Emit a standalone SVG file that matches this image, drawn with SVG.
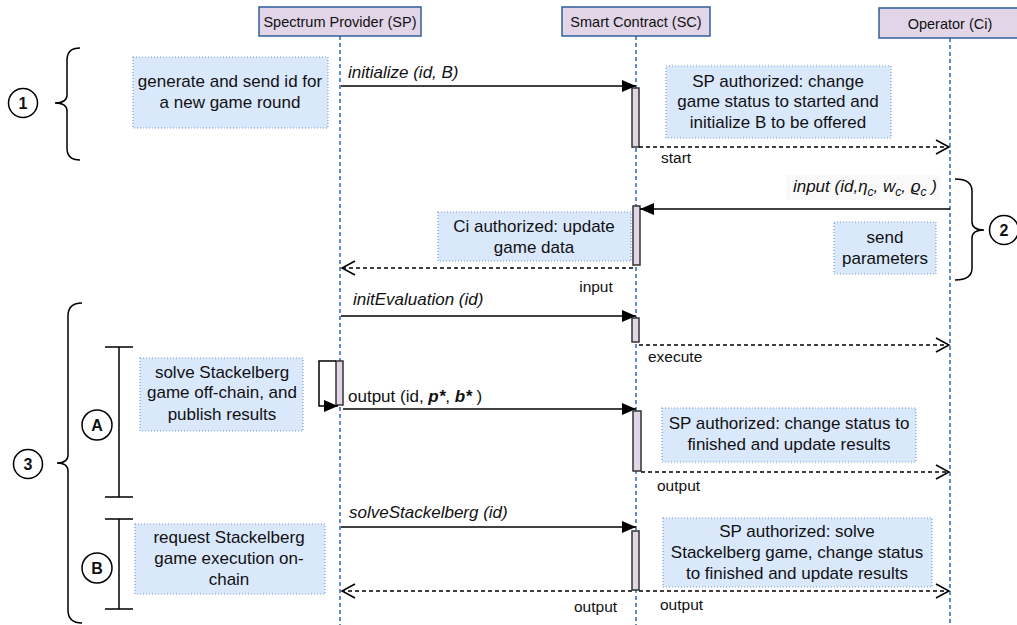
<svg xmlns="http://www.w3.org/2000/svg" width="1017" height="625" viewBox="0 0 1017 625">
<style>
text{font-family:"Liberation Sans",Arial,sans-serif;fill:#111}
.hdr{fill:#e1d5e7;stroke:#2f5e9e;stroke-width:1.5}
.hdrt{font-size:14.5px;text-anchor:middle}
.life{stroke:#2a68b0;stroke-width:1.5;stroke-dasharray:4 3;fill:none}
.note{fill:#dae8fc;stroke:#7a9cd0;stroke-width:1.2;stroke-dasharray:1 2}
.nt{font-size:17px;text-anchor:middle}
.act{fill:#e1d5e7;stroke:#333;stroke-width:1.5}
.msg{stroke:#000;stroke-width:1.5;fill:none}
.ret{stroke:#000;stroke-width:1.5;fill:none;stroke-dasharray:4 3}
.ml{font-size:17px;font-style:italic}
.rl{font-size:15.5px}
.br{stroke:#000;stroke-width:1.5;fill:none}
.circ{fill:#fff;stroke:#000;stroke-width:1.5}
.ct{font-size:16px;font-weight:bold;text-anchor:middle}
</style>
<defs>
<marker id="fill" markerWidth="15" markerHeight="12" refX="14" refY="6" orient="auto" markerUnits="userSpaceOnUse"><path d="M0,0 L14,6 L0,12 z" fill="#000"/></marker>
<marker id="open" markerWidth="16" markerHeight="16" refX="14" refY="8" orient="auto" markerUnits="userSpaceOnUse"><path d="M1,1 L14,8 L1,15" fill="none" stroke="#000" stroke-width="1.5"/></marker>
</defs>
<rect width="1017" height="625" fill="#fff"/>

<g id="sp">
<rect class="hdr" x="259" y="7" width="162" height="29"/>
<text class="hdrt" x="340" y="27">Spectrum Provider (SP)</text>
<line class="life" x1="340" y1="36" x2="340" y2="625"/>
</g>
<g id="sc">
<rect class="hdr" x="562" y="7" width="148" height="29"/>
<text class="hdrt" x="636" y="27">Smart Contract (SC)</text>
<line class="life" x1="636" y1="36" x2="636" y2="625"/>
</g>
<g id="op">
<rect class="hdr" x="879" y="8" width="142" height="30"/>
<text class="hdrt" x="950" y="29">Operator (Ci)</text>
<line class="life" x1="950" y1="38" x2="950" y2="625"/>
</g>

<g id="activations">
<rect class="act" x="632" y="88" width="7" height="59"/>
<rect class="act" x="633" y="206" width="7" height="59"/>
<rect class="act" x="632" y="318" width="7" height="24"/>
<rect class="act" x="336" y="361" width="7" height="44"/>
<rect class="act" x="633" y="411" width="8" height="60"/>
<rect class="act" x="632" y="531" width="7" height="59"/>
</g>

<g id="connectors">
<line class="msg" x1="341" y1="86" x2="636" y2="86" marker-end="url(#fill)"/>
<text class="ml" x="348" y="78">initialize (id, B)</text>
<line class="ret" x1="639" y1="147" x2="949" y2="147" marker-end="url(#open)"/>
<text class="rl" x="661" y="163">start</text>

<line class="msg" x1="950" y1="209" x2="640" y2="209" marker-end="url(#fill)"/>
<rect x="786" y="175" width="154" height="25" fill="#f9f9f9"/>
<text x="937" y="192" font-size="17" font-style="italic" text-anchor="end">input (id,η<tspan font-size="12" dy="4">c</tspan><tspan dy="-4">, w</tspan><tspan font-size="12" dy="4">c</tspan><tspan dy="-4">, ϱ</tspan><tspan font-size="12" dy="4">c</tspan><tspan dy="-4"> )</tspan></text>
<line class="ret" x1="633" y1="268" x2="342" y2="268" marker-end="url(#open)"/>
<text class="rl" x="596" y="292" text-anchor="middle">input</text>

<line class="msg" x1="341" y1="316" x2="636" y2="316" marker-end="url(#fill)"/>
<text class="ml" x="353" y="305">initEvaluation (id)</text>
<line class="ret" x1="639" y1="345" x2="949" y2="345" marker-end="url(#open)"/>
<text class="rl" x="648" y="362">execute</text>

<path class="msg" d="M336,361 L319,361 L319,406 L338,406" marker-end="url(#fill)"/>
<line class="msg" x1="343" y1="409" x2="636" y2="409" marker-end="url(#fill)"/>
<text x="348" y="402" font-size="17">output (id, <tspan font-weight="bold" font-style="italic">p*</tspan>, <tspan font-weight="bold" font-style="italic">b*</tspan> )</text>
<line class="ret" x1="641" y1="472" x2="949" y2="472" marker-end="url(#open)"/>
<text class="rl" x="657" y="491">output</text>

<line class="msg" x1="341" y1="527" x2="636" y2="527" marker-end="url(#fill)"/>
<text class="ml" x="349" y="518">solveStackelberg (id)</text>
<line class="ret" x1="632" y1="591" x2="342" y2="591" marker-end="url(#open)"/>
<line class="ret" x1="639" y1="591" x2="949" y2="591" marker-end="url(#open)"/>
<text class="rl" x="574" y="612">output</text>
<text class="rl" x="660" y="610">output</text>
</g>

<g id="note1">
<rect class="note" x="133" y="57" width="195" height="71"/>
<text class="nt" x="230" y="87">generate and send id for</text>
<text class="nt" x="230" y="108">a new game round</text>
</g>
<g id="note2">
<rect class="note" x="666" y="66" width="225" height="72"/>
<text class="nt" x="778" y="87">SP authorized: change</text>
<text class="nt" x="778" y="107">game status to started and</text>
<text class="nt" x="778" y="128">initialize B to be offered</text>
</g>
<g id="note3">
<rect class="note" x="438" y="212" width="193" height="49"/>
<text class="nt" x="534" y="232">Ci authorized: update</text>
<text class="nt" x="534" y="253">game data</text>
</g>
<g id="note4">
<rect class="note" x="834" y="222" width="102" height="52"/>
<text class="nt" x="885" y="243">send</text>
<text class="nt" x="885" y="264">parameters</text>
</g>
<g id="note5">
<rect class="note" x="140" y="358" width="163" height="73"/>
<text class="nt" x="222" y="378">solve Stackelberg</text>
<text class="nt" x="222" y="398">game off-chain, and</text>
<text class="nt" x="222" y="420">publish results</text>
</g>
<g id="note6">
<rect class="note" x="662" y="408" width="254" height="54"/>
<text class="nt" x="789" y="429">SP authorized: change status to</text>
<text class="nt" x="789" y="450">finished and update results</text>
</g>
<g id="note7">
<rect class="note" x="663" y="518" width="269" height="69"/>
<text class="nt" x="797" y="537">SP authorized: solve</text>
<text class="nt" x="797" y="558">Stackelberg game, change status</text>
<text class="nt" x="797" y="579">to finished and update results</text>
</g>
<g id="note8">
<rect class="note" x="135" y="524" width="190" height="70"/>
<text class="nt" x="229" y="543">request Stackelberg</text>
<text class="nt" x="229" y="564">game execution on-</text>
<text class="nt" x="229" y="585">chain</text>
</g>

<g id="phase1">
<path class="br" d="M80,48 Q67,48 67,60 L67,95 Q67,103 55,103 Q67,103 67,111 L67,148 Q67,160 80,160"/>
<circle class="circ" cx="23" cy="103" r="14.5"/>
<text class="ct" x="23" y="109">1</text>
</g>
<g id="phase2">
<path class="br" d="M955,179 Q972,179 972,191 L972,222 Q972,230 984,230 Q972,230 972,238 L972,268 Q972,280 955,280"/>
<circle class="circ" cx="1004" cy="230" r="14.5"/>
<text class="ct" x="1004" y="236">2</text>
</g>
<g id="phase3">
<path class="br" d="M82,303 Q68,303 68,316 L68,455 Q68,463 57,463 Q68,463 68,471 L68,610 Q68,623 82,623"/>
<circle class="circ" cx="28" cy="464" r="14.5"/>
<text class="ct" x="28" y="470">3</text>
</g>
<g id="phaseA">
<path class="br" d="M105,347 L133,347 M119,347 L119,497 M105,497 L133,497"/>
<circle class="circ" cx="97" cy="425" r="15"/>
<text class="ct" x="97" y="431">A</text>
</g>
<g id="phaseB">
<path class="br" d="M105,519 L133,519 M119,519 L119,609 M105,609 L133,609"/>
<circle class="circ" cx="97" cy="568" r="15"/>
<text class="ct" x="97" y="574">B</text>
</g>
</svg>
